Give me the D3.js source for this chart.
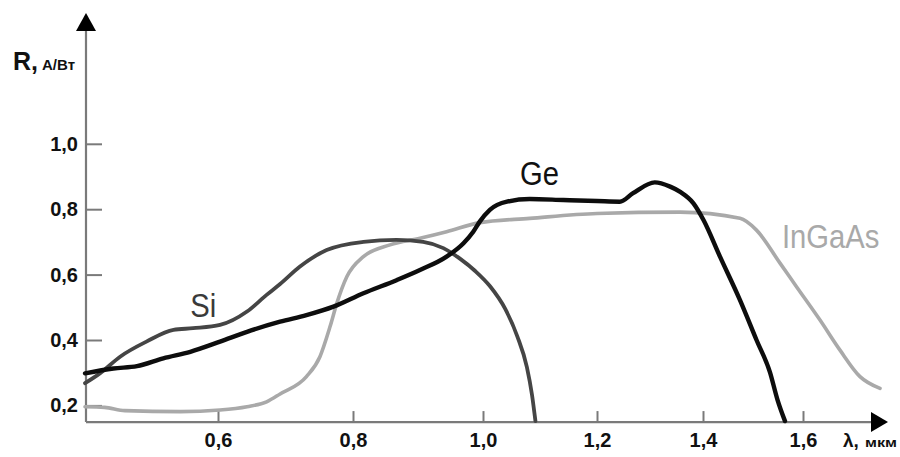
<!DOCTYPE html>
<html>
<head>
<meta charset="utf-8">
<script src="https://cdn.jsdelivr.net/npm/d3@7"></script>
<style>
  html, body { margin: 0; padding: 0; background: #fff; }
  svg { display: block; }
</style>
</head>
<body>
<svg id="chart" width="900" height="457"></svg>
<script>
// Spectral responsivity R (A/W) of photodiodes vs wavelength λ (µm)
const wavelengthTicks = [0.6, 0.8, 1.0, 1.2, 1.4, 1.6];
const responseTicks = [0.2, 0.4, 0.6, 0.8, 1.0];

const siCurve = [
  [0.403, 0.268], [0.425, 0.298], [0.455, 0.349], [0.494, 0.395], [0.534, 0.431],
  [0.563, 0.436], [0.603, 0.446], [0.643, 0.487], [0.672, 0.538], [0.692, 0.571],
  [0.721, 0.624], [0.761, 0.675], [0.816, 0.700], [0.867, 0.706], [0.908, 0.700],
  [0.939, 0.681], [0.965, 0.648], [0.988, 0.611], [1.012, 0.565], [1.039, 0.495],
  [1.060, 0.412], [1.077, 0.317], [1.086, 0.232], [1.092, 0.152]
];

const geCurve = [
  [0.403, 0.298], [0.445, 0.313], [0.480, 0.320], [0.519, 0.344], [0.559, 0.364],
  [0.603, 0.395], [0.643, 0.425], [0.692, 0.456], [0.731, 0.476], [0.771, 0.502],
  [0.816, 0.543], [0.867, 0.583], [0.903, 0.614], [0.944, 0.655], [0.970, 0.696],
  [0.985, 0.731], [0.995, 0.762], [1.012, 0.798], [1.042, 0.823], [1.082, 0.831],
  [1.141, 0.828], [1.200, 0.825], [1.243, 0.823], [1.268, 0.849], [1.309, 0.882],
  [1.338, 0.869], [1.357, 0.853], [1.382, 0.818], [1.401, 0.767], [1.434, 0.655],
  [1.474, 0.522], [1.507, 0.400], [1.534, 0.301], [1.549, 0.217], [1.564, 0.152]
];

const ingaasCurve = [
  [0.403, 0.196], [0.432, 0.194], [0.462, 0.184], [0.544, 0.181], [0.603, 0.186],
  [0.643, 0.196], [0.672, 0.211], [0.692, 0.235], [0.731, 0.288], [0.751, 0.349],
  [0.766, 0.441], [0.776, 0.512], [0.791, 0.594], [0.816, 0.655], [0.857, 0.691],
  [0.903, 0.711], [0.944, 0.731], [0.995, 0.759], [1.082, 0.772], [1.200, 0.787],
  [1.357, 0.791], [1.474, 0.772], [1.507, 0.736], [1.554, 0.635], [1.587, 0.563],
  [1.634, 0.461], [1.674, 0.369], [1.714, 0.288], [1.754, 0.252]
];

const svg = d3.select("#chart");

// Axis frame
const originX = 86;
const axisFloor = 0.149;          // responsivity at the horizontal axis line
const yTopArrow = 13;
const xEndArrow = 888;

// The wavelength axis is not uniformly spaced; a piecewise-linear scale follows its ticks
const x = d3.scaleLinear()
  .domain(wavelengthTicks)
  .range([218, 353, 483, 597, 703, 803]);

const y = d3.scaleLinear()
  .domain([0.2, 1.0])
  .range([405.4, 143.8]);

const axisY = y(axisFloor);

const ruLocale = d3.formatLocale({ decimal: ",", thousands: " ", grouping: [3], currency: ["", ""] });
const fmt = ruLocale.format(".1f");

const axisColor = "#7a7a7a";
const fontMain = "'Liberation Sans', Arial, Helvetica, sans-serif";

// Axis lines
svg.append("line")
  .attr("x1", originX).attr("y1", axisY)
  .attr("x2", originX).attr("y2", yTopArrow + 16)
  .attr("stroke", axisColor).attr("stroke-width", 2.2);
svg.append("line")
  .attr("x1", originX).attr("y1", axisY)
  .attr("x2", xEndArrow - 14).attr("y2", axisY)
  .attr("stroke", axisColor).attr("stroke-width", 2.2);

// Arrow heads
svg.append("path")
  .attr("d", `M${originX},${yTopArrow} L${originX + 10},${yTopArrow + 18} L${originX - 10},${yTopArrow + 18} Z`)
  .attr("fill", "#000");
svg.append("path")
  .attr("d", `M${xEndArrow},${axisY} L${xEndArrow - 17},${axisY - 10} L${xEndArrow - 17},${axisY + 10} Z`)
  .attr("fill", "#000");

// Y ticks (drawn inward)
const yAxis = d3.axisLeft(y)
  .tickValues(responseTicks)
  .tickFormat(fmt)
  .tickSizeInner(-16)
  .tickSizeOuter(0)
  .tickPadding(8);
const gy = svg.append("g").attr("transform", `translate(${originX},0)`).call(yAxis);
gy.select(".domain").remove();
gy.selectAll(".tick line").attr("stroke", axisColor).attr("stroke-width", 2);
gy.selectAll(".tick text")
  .attr("font-family", fontMain).attr("font-weight", "bold")
  .attr("font-size", 20).attr("fill", "#111");

// X ticks (drawn inward)
const xAxis = d3.axisBottom(x)
  .tickValues(wavelengthTicks)
  .tickFormat(fmt)
  .tickSizeInner(-11)
  .tickSizeOuter(0)
  .tickPadding(11);
const gx = svg.append("g").attr("transform", `translate(0,${axisY})`).call(xAxis);
gx.select(".domain").remove();
gx.selectAll(".tick line").attr("stroke", axisColor).attr("stroke-width", 2);
gx.selectAll(".tick text")
  .attr("font-family", fontMain).attr("font-weight", "bold")
  .attr("font-size", 20).attr("fill", "#111");

// Axis titles
const yTitle = svg.append("text")
  .attr("x", 13).attr("y", 70)
  .attr("font-family", fontMain).attr("font-weight", "bold").attr("fill", "#111");
yTitle.append("tspan").attr("font-size", 25).text("R,");
yTitle.append("tspan").attr("font-size", 15).attr("dx", 4).text("А/Вт");

svg.append("text")
  .attr("x", 843).attr("y", 447)
  .attr("font-family", fontMain).attr("font-weight", "bold").attr("fill", "#111")
  .attr("font-size", 19).text("λ,");
svg.append("text")
  .attr("x", 865).attr("y", 447)
  .attr("font-family", fontMain).attr("font-weight", "bold").attr("fill", "#111")
  .attr("font-size", 13)
  .attr("textLength", 32).attr("lengthAdjust", "spacingAndGlyphs")
  .text("мкм");

// Curves
const line = d3.line()
  .x(d => x(d[0]))
  .y(d => y(d[1]))
  .curve(d3.curveMonotoneX);

const series = [
  { data: ingaasCurve, color: "#a9a9a9", width: 3.6 },
  { data: siCurve, color: "#454545", width: 3.8 },
  { data: geCurve, color: "#0d0d0d", width: 4.4 }
];

svg.append("g").selectAll("path")
  .data(series)
  .join("path")
  .attr("d", d => line(d.data))
  .attr("fill", "none")
  .attr("stroke", d => d.color)
  .attr("stroke-width", d => d.width)
  .attr("stroke-linejoin", "round")
  .attr("stroke-linecap", "round");

// Series names placed next to their curves (condensed lettering)
const names = [
  { text: "Si", lambda: 0.559, r: 0.471, color: "#3a3a3a" },
  { text: "Ge", lambda: 1.065, r: 0.874, color: "#111" },
  { text: "InGaAs", lambda: 1.558, r: 0.681, color: "#a9a9a9" }
];
svg.append("g").selectAll("text")
  .data(names)
  .join("text")
  .attr("transform", d => `translate(${x(d.lambda)},${y(d.r)}) scale(0.86,1)`)
  .attr("font-family", fontMain)
  .attr("font-size", 34)
  .attr("fill", d => d.color)
  .text(d => d.text);
</script>
</body>
</html>
